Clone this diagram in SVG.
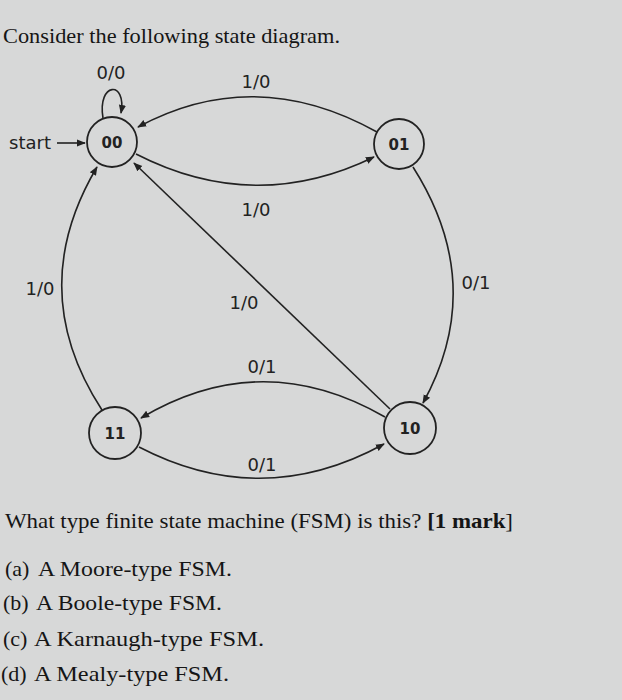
<svg xmlns="http://www.w3.org/2000/svg" width="622" height="700" viewBox="0 0 622 700">
<style>
.bg{fill:#d7d8d8}
.node circle{fill:none;stroke:#222;stroke-width:1.8}
.node text{font-family:"DejaVu Sans",sans-serif;font-weight:bold;font-size:15px;fill:#222;text-anchor:middle}
.edge{fill:none;stroke:#222;stroke-width:1.6;marker-end:url(#ah)}
.lbl{font-family:"DejaVu Sans",sans-serif;font-size:18px;fill:#222;text-anchor:middle}
.txt{font-family:"Liberation Serif",serif;font-size:22px;fill:#151515}
</style>
<defs>
<marker id="ah" viewBox="0 0 10 10" refX="9" refY="5" markerWidth="9" markerHeight="9" markerUnits="userSpaceOnUse" orient="auto">
<path d="M0,1 L10,5 L0,9 Z" fill="#222"/>
</marker>
</defs>
<rect class="bg" x="0" y="0" width="622" height="700"/>
<text class="txt" x="3" y="43" textLength="337" lengthAdjust="spacingAndGlyphs">Consider the following state diagram.</text>

<g id="connectors">
<path class="edge" d="M57,143 L85,143"/>
<path class="edge" d="M103,118 C97,82 127,80 121,113"/>
<path class="edge" d="M377,132 Q255,64 138,127"/>
<path class="edge" d="M136,154 Q255,215 374,157"/>
<path class="edge" d="M390,409 L134,163"/>
<path class="edge" d="M413,167 Q488,285 423,403"/>
<path class="edge" d="M102,410 Q24,290 97,167"/>
<path class="edge" d="M385,417 Q262,346 141,418"/>
<path class="edge" d="M139,447 Q262,511 384,444"/>
</g>

<g id="labels">
<text class="lbl" x="51" y="149" style="text-anchor:end">start</text>
<text class="lbl" x="111" y="79">0/0</text>
<text class="lbl" x="256" y="88">1/0</text>
<text class="lbl" x="256" y="216">1/0</text>
<text class="lbl" x="40" y="295">1/0</text>
<text class="lbl" x="244" y="309">1/0</text>
<text class="lbl" x="476" y="289">0/1</text>
<text class="lbl" x="262" y="373">0/1</text>
<text class="lbl" x="262" y="471">0/1</text>
</g>

<g id="n00" class="node"><circle cx="112" cy="142" r="25"/><text x="112" y="148">00</text></g>
<g id="n01" class="node"><circle cx="399" cy="144" r="25"/><text x="399" y="150">01</text></g>
<g id="n11" class="node"><circle cx="115" cy="433" r="26"/><text x="115" y="439">11</text></g>
<g id="n10" class="node"><circle cx="410" cy="428" r="26"/><text x="410" y="434">10</text></g>

<text class="txt" x="5" y="528" textLength="508" lengthAdjust="spacingAndGlyphs">What type finite state machine (FSM) is this? <tspan font-weight="bold">[1 mark</tspan>]</text>
<text class="txt" x="5" y="576">(a)</text><text class="txt" x="38" y="576" textLength="194" lengthAdjust="spacingAndGlyphs">A Moore-type FSM.</text>
<text class="txt" x="3" y="610">(b)</text><text class="txt" x="36" y="610" textLength="186" lengthAdjust="spacingAndGlyphs">A Boole-type FSM.</text>
<text class="txt" x="3" y="646">(c)</text><text class="txt" x="34" y="646" textLength="230" lengthAdjust="spacingAndGlyphs">A Karnaugh-type FSM.</text>
<text class="txt" x="1" y="681">(d)</text><text class="txt" x="34" y="681" textLength="195" lengthAdjust="spacingAndGlyphs">A Mealy-type FSM.</text>
</svg>
